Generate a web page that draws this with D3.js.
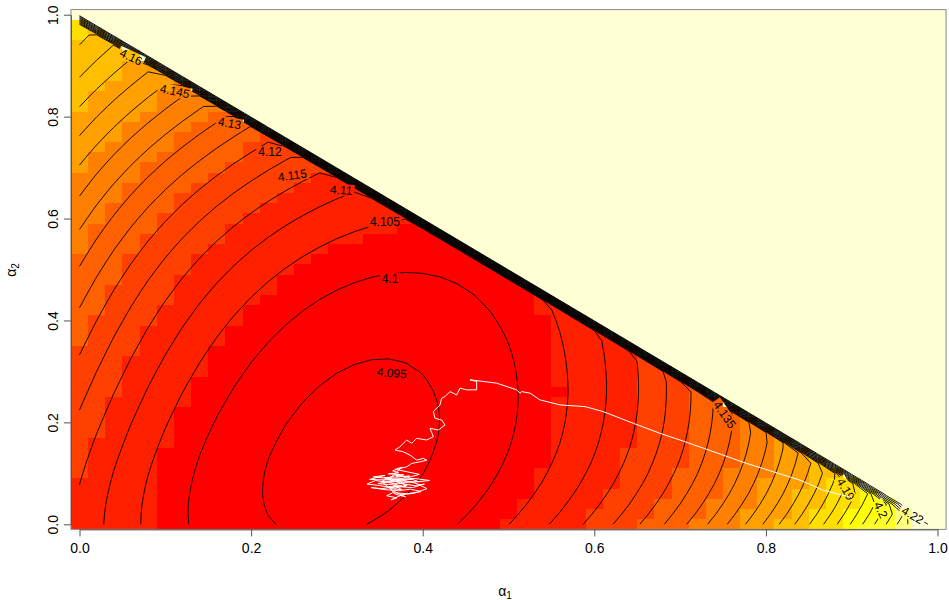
<!DOCTYPE html>
<html>
<head>
<meta charset="utf-8">
<script src="https://cdn.jsdelivr.net/npm/d3@7"></script>
<style>
  body { margin: 0; background: #fff; }
  text { font-family: "Liberation Sans", Arial, sans-serif; }
</style>
</head>
<body>
<script>
// ---- data ----
const gridStep = 0.02;          // image cells: alpha1, alpha2 = 0, 0.02, ..., 1
const outsideValue = 4.225;     // cells with alpha1 + alpha2 >= 1
const contourLevels = [4.095, 4.1, 4.105, 4.11, 4.115, 4.12, 4.125, 4.13, 4.135, 4.14, 4.145,
  4.15, 4.155, 4.16, 4.165, 4.17, 4.175, 4.18, 4.185, 4.19, 4.195, 4.2, 4.205, 4.21, 4.215, 4.22];
const heatColors = ["#FF0000", "#FF2000", "#FF4000", "#FF6000", "#FF8000", "#FF9F00",
  "#FFBF00", "#FFDF00", "#FFFF00", "#FFFF2A", "#FFFF80", "#FFFFD5"];
const xTicks = [0, 0.2, 0.4, 0.6, 0.8, 1.0];
const yTicks = [0, 0.2, 0.4, 0.6, 0.8, 1.0];

// points lying on the drawn contour lines: [alpha1, alpha2, level]
const bottomReadings = [
  [0.0277, 0, 4.11], [0.0705, 0, 4.105], [0.127, 0, 4.1], [0.2337, 0, 4.095], [0.327, 0, 4.095],
  [0.4435, 0, 4.1], [0.4998, 0, 4.105], [0.546, 0, 4.11], [0.587, 0, 4.115], [0.622, 0, 4.12],
  [0.653, 0, 4.125], [0.68, 0, 4.13], [0.7077, 0, 4.135], [0.731, 0, 4.14], [0.7543, 0, 4.145],
  [0.7757, 0, 4.15], [0.797, 0, 4.155], [0.8165, 0, 4.16], [0.834, 0, 4.165], [0.8514, 0, 4.17],
  [0.869, 0, 4.175], [0.8844, 0, 4.18], [0.8981, 0, 4.185], [0.9117, 0, 4.19], [0.925, 0, 4.195],
  [0.9388, 0, 4.2], [0.9524, 0, 4.205], [0.968, 0, 4.21]
];
const leftReadings = [
  [0, 0.073, 4.115], [0, 0.226, 4.12], [0, 0.333, 4.125], [0, 0.423, 4.13], [0, 0.504, 4.135],
  [0, 0.577, 4.14], [0, 0.644, 4.145], [0, 0.707, 4.15], [0, 0.77, 4.155], [0, 0.827, 4.16],
  [0, 0.88, 4.165], [0, 0.933, 4.17]
];
const innerReadings = [
  [0.31, 0.14, 4.093],
  [0.3231, 0.3065, 4.095], [0.389, 0.2933, 4.095], [0.4105, 0.2376, 4.095], [0.4143, 0.185, 4.095],
  [0.4105, 0.139, 4.095], [0.3969, 0.0866, 4.095], [0.3735, 0.0472, 4.095], [0.2142, 0.0734, 4.095],
  [0.2142, 0.1128, 4.095], [0.2259, 0.1654, 4.095], [0.2492, 0.2244, 4.095], [0.2803, 0.277, 4.095],
  [0.3075, 0.2998, 4.095],
  [0.3464, 0.4837, 4.1], [0.3814, 0.4848, 4.1], [0.4435, 0.4606, 4.1], [0.4823, 0.4081, 4.1],
  [0.4979, 0.3557, 4.1], [0.5017, 0.3096, 4.1], [0.5076, 0.2441, 4.1], [0.5017, 0.1589, 4.1],
  [0.4823, 0.0734, 4.1], [0.4551, 0.0144, 4.1], [0.1326, 0.0998, 4.1], [0.156, 0.1915, 4.1],
  [0.1871, 0.2638, 4.1], [0.2259, 0.3622, 4.1], [0.2492, 0.4213, 4.1], [0.2881, 0.4541, 4.1],
  [0.465, 0.51, 4.1025],
  [0.1556, 0.362, 4.105], [0.2142, 0.4671, 4.105], [0.2415, 0.5132, 4.105], [0.2803, 0.5591, 4.105],
  [0.3347, 0.5951, 4.105], [0.3814, 0.5951, 4.105], [0.5402, 0.441, 4.105], [0.556, 0.36, 4.105],
  [0.5678, 0.277, 4.105], [0.56, 0.1457, 4.105],
  [0.1093, 0.362, 4.11], [0.6101, 0.368, 4.11], [0.6144, 0.2441, 4.11],
  [0.0705, 0.362, 4.115], [0.6533, 0.3228, 4.115], [0.6568, 0.2441, 4.115],
  [0.0375, 0.362, 4.12], [0.6906, 0.2835, 4.12], [0.6882, 0.1791, 4.12],
  [0.2026, 0.729, 4.125], [0.7197, 0.2539, 4.125],
  [0.1556, 0.736, 4.13], [0.1133, 0.736, 4.135], [0.745, 0.21, 4.135],
  [0.0822, 0.736, 4.14], [0.0608, 0.736, 4.145], [0.06, 0.917, 4.16]
];

// sampler path (white line)
const tracePoints = [
  [0.900, 0.0526], [0.8669, 0.0669], [0.8397, 0.0866], [0.7776, 0.1195], [0.6999, 0.1654],
  [0.6766, 0.1785], [0.6455, 0.1982], [0.6105, 0.2211], [0.5892, 0.2309], [0.5600, 0.2343],
  [0.5367, 0.2441], [0.5251, 0.2573], [0.5154, 0.2604], [0.5134, 0.2573], [0.5096, 0.2638],
  [0.4862, 0.2770], [0.4551, 0.2835], [0.4629, 0.2801], [0.4629, 0.2638], [0.4513, 0.2638],
  [0.4435, 0.2671], [0.4396, 0.2539], [0.4318, 0.2604], [0.4260, 0.2506], [0.4221, 0.2474],
  [0.4202, 0.2343], [0.4124, 0.2211], [0.4143, 0.2081], [0.4221, 0.2047], [0.4260, 0.1949],
  [0.4182, 0.1850], [0.4085, 0.1884], [0.4124, 0.1719], [0.4047, 0.1654], [0.3930, 0.1687],
  [0.3872, 0.1589], [0.3814, 0.1654], [0.3735, 0.1522], [0.3677, 0.1457], [0.3774, 0.1423],
  [0.3852, 0.1358], [0.3930, 0.1260], [0.4007, 0.1293], [0.4047, 0.1260], [0.3969, 0.1226],
  [0.3872, 0.1195], [0.3814, 0.1128], [0.3735, 0.1096], [0.3650, 0.1050], [0.3720, 0.1010],
  [0.3600, 0.0990], [0.3780, 0.0970], [0.3690, 0.0930], [0.3850, 0.0950], [0.3760, 0.0900],
  [0.3550, 0.0920], [0.3640, 0.0870], [0.3880, 0.0880], [0.3950, 0.0840], [0.3800, 0.0820],
  [0.3620, 0.0850], [0.3480, 0.0800], [0.3600, 0.0780], [0.3750, 0.0800], [0.3900, 0.0760],
  [0.4020, 0.0790], [0.3880, 0.0720], [0.3700, 0.0740], [0.3520, 0.0700], [0.3400, 0.0720],
  [0.3560, 0.0680], [0.3720, 0.0660], [0.3860, 0.0690], [0.3980, 0.0640], [0.3820, 0.0600],
  [0.3650, 0.0620], [0.3580, 0.0560], [0.3700, 0.0520], [0.3630, 0.0480], [0.3760, 0.0580],
  [0.3900, 0.0610], [0.4050, 0.0700], [0.3930, 0.0800], [0.3780, 0.0860], [0.3600, 0.0820],
  [0.3450, 0.0860], [0.3350, 0.0790], [0.3500, 0.0760], [0.3680, 0.0710], [0.3820, 0.0770],
  [0.3700, 0.0830], [0.3560, 0.0900], [0.3700, 0.0960], [0.3840, 0.0920], [0.3960, 0.0980],
  [0.3820, 0.1030], [0.3680, 0.1080], [0.3760, 0.1120], [0.3640, 0.0940], [0.3520, 0.0840],
  [0.3700, 0.0790], [0.3620, 0.0700], [0.3760, 0.0680], [0.3660, 0.0760], [0.3800, 0.0740],
  [0.3720, 0.0880], [0.3420, 0.0930], [0.3560, 0.0960], [0.3380, 0.0880], [0.3580, 0.0870],
  [0.3900, 0.0900], [0.4080, 0.0860], [0.3920, 0.0830], [0.3700, 0.0860], [0.3540, 0.0810],
  [0.3660, 0.0650], [0.3800, 0.0540], [0.3680, 0.0590], [0.3600, 0.0740], [0.3760, 0.0760]
];

// contour labels: text, alpha1, alpha2 of the label centre
const contourLabels = [
  ["4.16", 0.060, 0.917], ["4.145", 0.111, 0.850], ["4.13", 0.175, 0.787], ["4.12", 0.222, 0.730],
  ["4.115", 0.248, 0.685], ["4.11", 0.305, 0.656], ["4.105", 0.356, 0.594], ["4.1", 0.362, 0.482],
  ["4.095", 0.364, 0.297], ["4.135", 0.752, 0.215], ["4.19", 0.893, 0.069], ["4.2", 0.934, 0.028],
  ["4.22", 0.971, 0.018]
];
const labelAngles = [25, 12, 10, 0, -8, 4, 0, 0, 5, 55, 60, 65, 30];

// ---- layout ----
const W = 949, H = 600;
const x = d3.scaleLinear().domain([0, 1]).range([79.5, 937.5]);
const y = d3.scaleLinear().domain([0, 1]).range([524.3, 14.7]);
const half = gridStep / 2;

const svg = d3.select("body").append("svg").attr("width", W).attr("height", H);

// ---- smooth surface through the contour readings (least squares, degree 5) ----
const readings = bottomReadings.concat(leftReadings, innerReadings);
const deg = 5;
const terms = [];
for (let p = 0; p <= deg; p++) for (let q = 0; q <= deg - p; q++) terms.push([p, q]);
const basis = (a, b) => terms.map(([p, q]) => Math.pow(a - 0.35, p) * Math.pow(b - 0.35, q));
const nT = terms.length;
const M = d3.range(nT).map(() => new Array(nT).fill(0));
const rhs = new Array(nT).fill(0);
readings.forEach(([a, b, z]) => {
  const r = basis(a, b);
  for (let i = 0; i < nT; i++) {
    rhs[i] += r[i] * z;
    for (let j = 0; j < nT; j++) M[i][j] += r[i] * r[j];
  }
});
for (let i = 0; i < nT; i++) M[i][i] += 1e-9;
function solve(A, bvec) {
  const n = bvec.length, m = A.map((row, i) => row.concat([bvec[i]]));
  for (let c = 0; c < n; c++) {
    let piv = c;
    for (let r = c + 1; r < n; r++) if (Math.abs(m[r][c]) > Math.abs(m[piv][c])) piv = r;
    [m[c], m[piv]] = [m[piv], m[c]];
    for (let r = 0; r < n; r++) {
      if (r === c) continue;
      const f = m[r][c] / m[c][c];
      for (let k = c; k <= n; k++) m[r][k] -= f * m[c][k];
    }
  }
  return m.map((row, i) => row[n] / row[i]);
}
const coef = solve(M, rhs);
const surface = (a, b) => d3.sum(basis(a, b), (v, i) => v * coef[i]);

const nG = Math.round(1 / gridStep) + 1;
const z = d3.range(nG).map(i => d3.range(nG).map(j =>
  (i + j >= nG - 1) ? outsideValue : surface(i * gridStep, j * gridStep)));

// ---- image cells ----
const zMin = d3.min(z, row => d3.min(row)), zMax = d3.max(z, row => d3.max(row));
const colorOf = v => heatColors[Math.min(heatColors.length - 1,
  Math.floor((v - zMin) / (zMax - zMin) * heatColors.length))];
const cells = [];
for (let i = 0; i < nG; i++) for (let j = 0; j < nG; j++) cells.push({ a: i * gridStep, b: j * gridStep, v: z[i][j] });
svg.append("g").attr("shape-rendering", "crispEdges")
  .selectAll("rect").data(cells).join("rect")
  .attr("x", d => x(d.a - half))
  .attr("y", d => y(d.b + half))
  .attr("width", d => x(d.a + half) - x(d.a - half))
  .attr("height", d => y(d.b - half) - y(d.b + half))
  .attr("fill", d => colorOf(d.v));

// ---- contour lines (marching squares) ----
function contourSegments(level) {
  const segs = [];
  for (let i = 0; i < nG - 1; i++) for (let j = 0; j < nG - 1; j++) {
    const pts = [[i, j], [i + 1, j], [i + 1, j + 1], [i, j + 1]];
    const v = pts.map(([p, q]) => z[p][q]);
    const cross = [];
    for (let e = 0; e < 4; e++) {
      const a = e, b = (e + 1) % 4;
      if ((v[a] < level) !== (v[b] < level)) {
        const t = (level - v[a]) / (v[b] - v[a]);
        cross.push([(pts[a][0] + t * (pts[b][0] - pts[a][0])) * gridStep,
                    (pts[a][1] + t * (pts[b][1] - pts[a][1])) * gridStep]);
      }
    }
    if (cross.length === 2) segs.push(cross);
    else if (cross.length === 4) {
      const c = d3.mean(v);
      if ((c < level) === (v[0] < level)) { segs.push([cross[0], cross[1]]); segs.push([cross[2], cross[3]]); }
      else { segs.push([cross[3], cross[0]]); segs.push([cross[1], cross[2]]); }
    }
  }
  return segs;
}

const defs = svg.append("defs");
const mask = defs.append("mask").attr("id", "labelGaps")
  .attr("maskUnits", "userSpaceOnUse").attr("x", 0).attr("y", 0).attr("width", W).attr("height", H);
mask.append("rect").attr("width", W).attr("height", H).attr("fill", "white");

const lines = svg.append("g").attr("mask", "url(#labelGaps)")
  .attr("fill", "none").attr("stroke", "#000").attr("stroke-width", 0.9);
contourLevels.forEach(level => {
  const segs = contourSegments(level);
  lines.append("path").attr("d", segs.map(s =>
    "M" + x(s[0][0]).toFixed(2) + "," + y(s[0][1]).toFixed(2) + "L" + x(s[1][0]).toFixed(2) + "," + y(s[1][1]).toFixed(2)).join(""));
});

// labels
const labelG = svg.append("g");
contourLabels.forEach(([txt, a, b], k) => {
  const t = labelG.append("text")
    .attr("transform", `translate(${x(a)},${y(b)}) rotate(${labelAngles[k]})`)
    .attr("text-anchor", "middle").attr("dy", "0.35em")
    .attr("font-size", 12).attr("fill", "#000").text(txt);
  const w = t.node().getComputedTextLength();
  mask.append("rect")
    .attr("transform", `translate(${x(a)},${y(b)}) rotate(${labelAngles[k]})`)
    .attr("x", -w / 2 - 2).attr("y", -6).attr("width", w + 4).attr("height", 12).attr("fill", "black");
});

// ---- trace ----
svg.append("path").datum(tracePoints)
  .attr("fill", "none").attr("stroke", "#fff").attr("stroke-width", 1)
  .attr("d", d3.line().x(d => x(d[0])).y(d => y(d[1])));

// ---- frame and axes ----
svg.append("rect")
  .attr("x", x(-half)).attr("y", y(1 + half))
  .attr("width", x(1 + half) - x(-half)).attr("height", y(-half) - y(1 + half))
  .attr("fill", "none").attr("stroke", "#888").attr("stroke-width", 1);

const xAxis = svg.append("g").attr("transform", `translate(0,${y(-half)})`)
  .call(d3.axisBottom(x).tickValues(xTicks).tickFormat(d3.format(".1f")).tickSize(7).tickSizeOuter(0).tickPadding(7));
const yAxis = svg.append("g").attr("transform", `translate(${x(-half)},0)`)
  .call(d3.axisLeft(y).tickValues(yTicks).tickFormat(d3.format(".1f")).tickSize(7).tickSizeOuter(0).tickPadding(7));
[xAxis, yAxis].forEach(g => {
  g.selectAll("path,line").attr("stroke", "#555");
  g.selectAll("text").attr("font-size", 14).attr("font-family", "Liberation Sans, Arial, sans-serif").attr("fill", "#000");
});
yAxis.selectAll(".tick text")
  .attr("text-anchor", "middle").attr("dy", 0).attr("x", 0)
  .attr("transform", "translate(-18,0) rotate(-90)")
  .attr("y", 0).attr("dy", "0.35em");

const xt = svg.append("text").attr("x", 505).attr("y", 596).attr("text-anchor", "middle").attr("font-size", 14);
xt.append("tspan").text("α");
xt.append("tspan").attr("font-size", 10).attr("dy", 3).text("1");
const yt = svg.append("text").attr("transform", "translate(16,270) rotate(-90)").attr("text-anchor", "middle").attr("font-size", 14);
yt.append("tspan").text("α");
yt.append("tspan").attr("font-size", 10).attr("dy", 3).text("2");
</script>
</body>
</html>
